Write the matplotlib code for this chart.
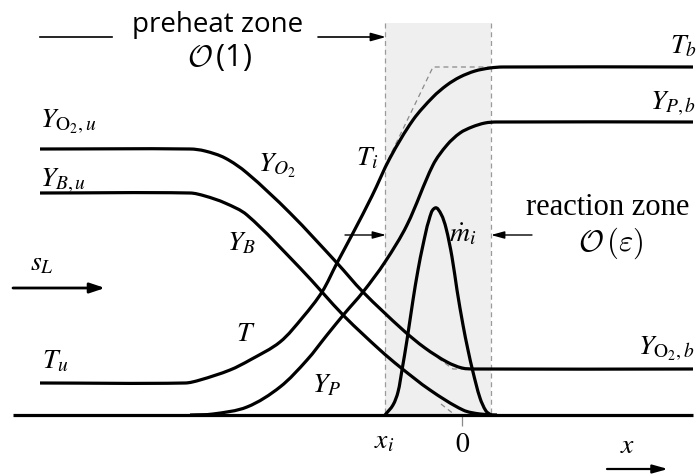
import numpy as np
import matplotlib.pyplot as plt
from matplotlib.path import Path
from matplotlib.patches import PathPatch, Rectangle

# profile skeletons (pixel units, y grows downward)
T_x = [40, 185, 200, 230, 250, 280, 303, 322, 337, 353, 372, 390, 413, 433, 447, 460, 475, 490, 503, 693]
T_y = [383, 383, 380, 370, 360, 342, 317, 292, 263, 233, 196, 158, 120, 97, 85, 77, 71, 68, 67, 67]

YP_x = [190, 213, 247, 280, 307, 327, 345, 363, 385, 407, 433, 447, 460, 472, 485, 497, 693]
YP_y = [415, 414, 407, 387, 360, 335, 313, 292, 262, 225, 165, 145, 133, 127, 123, 122, 122]

YO2_x = [40, 190, 205, 225, 247, 290, 337, 363, 403, 425, 447, 462, 475, 693]
YO2_y = [149, 149, 151, 158, 173, 213, 263, 292, 330, 348, 362, 368, 369, 369]

YB_x = [40, 190, 205, 225, 247, 300, 322, 345, 380, 400, 430, 463, 480, 497]
YB_y = [193, 193, 196, 203, 215, 268, 292, 317, 350, 367, 390, 410, 414, 415]

mdot_x = [385, 393, 398, 402, 407, 413, 418, 423, 429, 435, 441, 446, 452, 457, 463, 468, 473, 480, 486, 491]
mdot_y = [415, 405, 392, 370, 340, 300, 270, 245, 220, 208, 214, 228, 257, 290, 325, 350, 372, 398, 411, 415]

# straight-line asymptotes (dashed) near the reaction zone
Tasym_x = [388, 433, 491]
Tasym_y = [160, 67, 67]
O2asym_x = [438, 453, 470]
O2asym_y = [358, 369, 369]
Basym_x = [441, 455]
Basym_y = [404, 415]

x_lo, x_hi = 13, 693      # baseline extent
base_y = 415
zone_x = [385, 491]        # reaction zone edges
zone_top = 23
x_zero = 462


def smooth(xs, ys):
    # cubic bezier through the read points, tangent = chord of neighbours
    p = np.column_stack([xs, ys]).astype(float)
    n = len(p)
    tang = []
    for i in range(n):
        d = p[min(i + 1, n - 1)] - p[max(i - 1, 0)]
        tang.append(d / np.hypot(*d))
    verts = [p[0]]
    codes = [Path.MOVETO]
    for i in range(n - 1):
        L = np.hypot(*(p[i + 1] - p[i]))
        verts += [p[i] + tang[i] * L / 3, p[i + 1] - tang[i + 1] * L / 3, p[i + 1]]
        codes += [Path.CURVE4] * 3
    return Path(verts, codes)


fig = plt.figure(figsize=(6.99, 4.76), dpi=100)
ax = fig.add_axes([0, 0, 1, 1])
ax.set_xlim(0, 699)
ax.set_ylim(476, 0)
ax.axis('off')

# reaction zone shading
ax.add_patch(Rectangle((zone_x[0], zone_top), zone_x[1] - zone_x[0], base_y - zone_top,
                       fc='#efefef', ec='none', zorder=0))
ax.vlines(zone_x, zone_top, base_y, colors='#9a9a9a', linestyles=(0, (4, 3)), lw=0.9, zorder=1)
ax.vlines(x_zero, base_y, base_y + 11, colors='#8a8a8a', lw=0.9)

dash = dict(color='#8a8a8a', ls=(0, (4, 3)), lw=0.9, zorder=1)
ax.plot(Tasym_x, Tasym_y, **dash)
ax.plot(O2asym_x, O2asym_y, **dash)
ax.plot(Basym_x, Basym_y, **dash)

lw = 2.3
ax.plot([x_lo, x_hi], [base_y, base_y], color='k', lw=lw, solid_capstyle='butt')
for xs, ys in [(T_x, T_y), (YP_x, YP_y), (YO2_x, YO2_y), (YB_x, YB_y), (mdot_x, mdot_y)]:
    ax.add_patch(PathPatch(smooth(xs, ys), fc='none', ec='k', lw=lw, capstyle='butt', zorder=3))

# arrows
def arrow(x0, y0, x1, y1, w, hl, hw):
    ax.annotate('', xy=(x1, y1), xytext=(x0, y0),
                arrowprops=dict(arrowstyle=f'-|>,head_length={hl},head_width={hw}',
                                lw=w, color='k', shrinkA=0, shrinkB=0))

arrow(13, 288, 105, 288, 2.0, 0.9, 0.3)
arrow(318, 37, 386, 37, 1.2, 0.9, 0.25)
ax.plot([40, 112], [37, 37], color='k', lw=1.2)
arrow(345, 235, 386, 235, 1.0, 0.8, 0.22)
arrow(532, 235, 491, 235, 1.0, 0.8, 0.22)
arrow(607, 469, 668, 469, 1.6, 0.9, 0.25)

# zone captions
ax.text(218, 32, 'preheat zone', family='Open Sans', fontsize=20, ha='center', va='baseline')
ax.text(220, 66, r'$\mathcal{O}\,$(1)', family='Open Sans', math_fontfamily='cm', fontsize=22,
        ha='center', va='baseline')
ax.text(608, 215, 'reaction zone', family='Liberation Serif', fontsize=22, ha='center', va='baseline')
ax.text(611, 251, r'$\mathcal{O}\,(\varepsilon)$', math_fontfamily='cm', fontsize=22,
        ha='center', va='baseline')

# symbol labels
labels = [
    (40, 128, r'$Y_{\mathrm{O}_2,u}$', 'left'),
    (40, 187, r'$Y_{B,u}$', 'left'),
    (258, 172, r'$Y_{O_2}$', 'left'),
    (227, 250, r'$Y_B$', 'left'),
    (356, 165, r'$T_i$', 'left'),
    (697, 53, r'$T_b$', 'right'),
    (696, 110, r'$Y_{P,b}$', 'right'),
    (449, 241, r'$\dot{m}_i$', 'left'),
    (30, 270, r'$s_L$', 'left'),
    (236, 341, r'$T$', 'left'),
    (42, 368, r'$T_u$', 'left'),
    (312, 392, r'$Y_P$', 'left'),
    (694, 355, r'$Y_{\mathrm{O}_2,b}$', 'right'),
    (374, 448, r'$x_i$', 'left'),
    (455, 452, r'$0$', 'left'),
    (620, 453, r'$x$', 'left'),
]
for x, y, s, ha in labels:
    ax.text(x, y, s, math_fontfamily='stix', fontsize=20, ha=ha, va='baseline')

fig.savefig('out.png', dpi=100)
